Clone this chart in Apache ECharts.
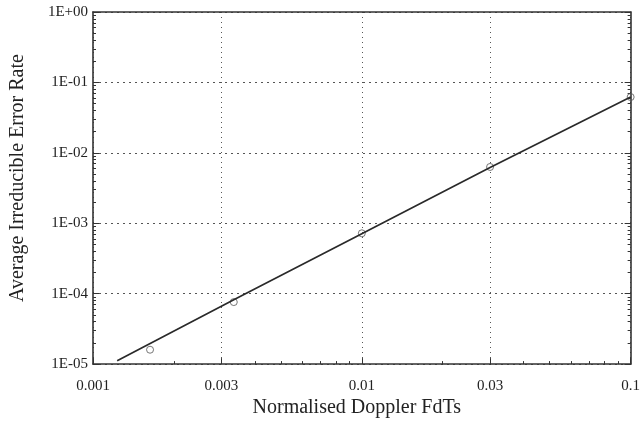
<!DOCTYPE html>
<html><head><meta charset="utf-8">
<script src="https://cdn.jsdelivr.net/npm/echarts@6/dist/echarts.min.js"></script>
<style>html,body{margin:0;padding:0;background:#fff}#c{width:643px;height:423px}</style>
</head><body><div id="c"></div>
<script>
// ---- data ----
const xTickValues = [0.001, 0.003, 0.01, 0.03, 0.1];
const yTickValues = [1e-5, 1e-4, 1e-3, 1e-2, 1e-1, 1];
const lineX = [0.00123, 0.00334, 0.01, 0.03, 0.1];
const lineY = [1.12e-5, 8.2e-5, 7.1e-4, 6.2e-3, 0.062];
const markerX = [0.00163, 0.00334, 0.01, 0.03, 0.1];
const markerY = [1.6e-5, 7.6e-5, 7.2e-4, 6.3e-3, 0.062];
const xName = 'Normalised Doppler FdTs';
const yName = 'Average Irreducible Error Rate';

function minorValues(d0, d1) {
  const out = [];
  for (let d = d0; d < d1; d++) for (let k = 1; k <= 9; k++) out.push(Number((k * Math.pow(10, d)).toPrecision(3)));
  out.push(Math.pow(10, d1));
  return out;
}
const xMinor = minorValues(-3, -1);
const yMinor = minorValues(-5, 0);

const FONT = '"Liberation Serif", "DejaVu Serif", serif';
const INK = '#333333';
const fmtY = v => { const e = Math.round(Math.log10(v)); return '1E' + (e < 0 ? '-' : '+') + String(Math.abs(e)).padStart(2, '0'); };
const fmtX = v => String(Number(Number(v).toPrecision(2)));

const chart = echarts.init(document.getElementById('c'), null, {renderer: 'canvas'});
const baseX = {type: 'log', logBase: 10, min: 0.001, max: 0.1, gridIndex: 0};
const baseY = {type: 'log', logBase: 10, min: 1e-5, max: 1, gridIndex: 0};
const line = {onZero: false, lineStyle: {color: INK, width: 1.6}};
const noLine = {show: false, onZero: false};
chart.setOption({
  backgroundColor: '#ffffff',
  animation: false,
  grid: {left: 91, right: 12, top: 12, bottom: 56, containLabel: false},
  xAxis: [
    Object.assign({}, baseX, {
      position: 'bottom', axisLine: line,
      name: xName, nameLocation: 'middle', nameGap: 32,
      nameTextStyle: {fontFamily: FONT, fontSize: 20, color: '#222', padding: [0, 10, 0, 0]},
      axisLabel: {customValues: xTickValues, formatter: fmtX, fontFamily: FONT, fontSize: 15, color: '#222', margin: 14},
      axisTick: {customValues: xTickValues, inside: true, length: 6, lineStyle: {color: INK}},
      splitLine: {show: true, lineStyle: {color: '#555', type: [1, 4], width: 1}},
      minorTick: {show: false}
    }),
    Object.assign({}, baseX, {
      position: 'bottom', axisLine: noLine, axisLabel: {show: false},
      axisTick: {customValues: xMinor, inside: true, length: 3, lineStyle: {color: INK}},
      splitLine: {show: false}
    }),
    Object.assign({}, baseX, {
      position: 'top', axisLine: line, axisLabel: {show: false},
      axisTick: {show: false}, splitLine: {show: false}
    })
  ],
  yAxis: [
    Object.assign({}, baseY, {
      position: 'left', axisLine: line,
      name: yName, nameLocation: 'middle', nameGap: 65, nameRotate: 90,
      nameTextStyle: {fontFamily: FONT, fontSize: 20, color: '#222', padding: [0, 0, 0, 20]},
      axisLabel: {customValues: yTickValues, formatter: fmtY, fontFamily: FONT, fontSize: 15, color: '#222', margin: 5},
      axisTick: {customValues: yTickValues, inside: true, length: 6, lineStyle: {color: INK}},
      splitLine: {show: true, lineStyle: {color: '#555', type: [2, 4], width: 1}}
    }),
    Object.assign({}, baseY, {
      position: 'left', axisLine: noLine, axisLabel: {show: false},
      axisTick: {customValues: yMinor, inside: true, length: 3, lineStyle: {color: INK}},
      splitLine: {show: false}
    }),
    Object.assign({}, baseY, {
      position: 'right', axisLine: line, axisLabel: {show: false},
      axisTick: {customValues: yTickValues, inside: true, length: 6, lineStyle: {color: INK}},
      splitLine: {show: false}
    }),
    Object.assign({}, baseY, {
      position: 'right', axisLine: noLine, axisLabel: {show: false},
      axisTick: {customValues: yMinor, inside: true, length: 3, lineStyle: {color: INK}},
      splitLine: {show: false}
    })
  ],
  series: [
    {
      type: 'line', xAxisIndex: 0, yAxisIndex: 0,
      data: lineX.map((x, i) => [x, lineY[i]]),
      showSymbol: false, symbol: 'none',
      lineStyle: {color: '#2a2a2a', width: 1.7}
    },
    {
      type: 'scatter', xAxisIndex: 0, yAxisIndex: 0,
      data: markerX.map((x, i) => [x, markerY[i]]),
      symbol: 'circle', symbolSize: 7,
      itemStyle: {color: 'rgba(255,255,255,0)', borderColor: '#555', borderWidth: 1}
    }
  ]
});
</script></body></html>
